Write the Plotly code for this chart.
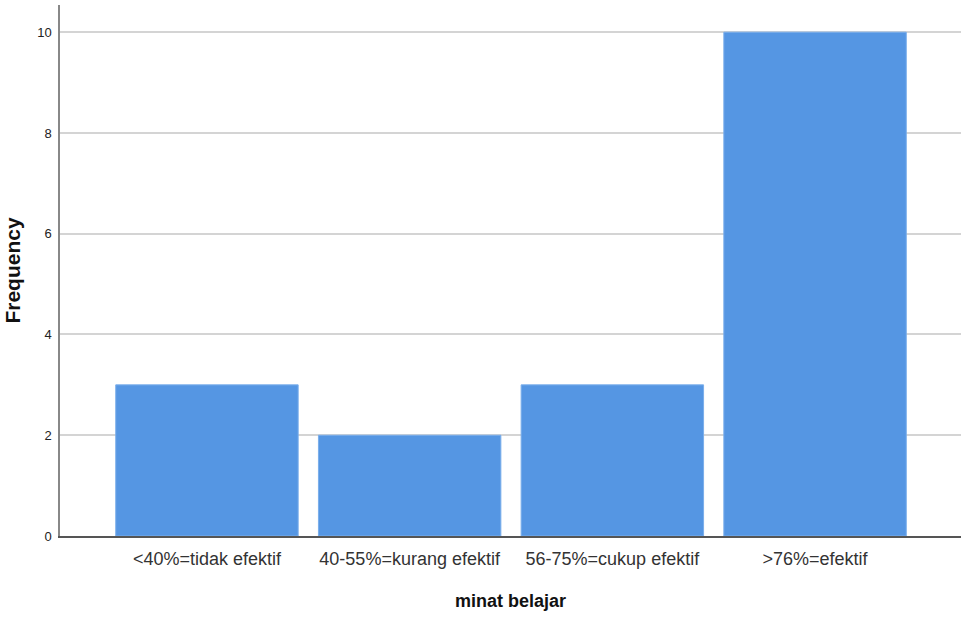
import plotly.graph_objects as go

categories = ["<40%=tidak efektif", "40-55%=kurang efektif", "56-75%=cukup efektif", ">76%=efektif"]
frequency = [3, 2, 3, 10]
y_ticks = [0, 2, 4, 6, 8, 10]

fig = go.Figure()
fig.add_trace(go.Bar(
    x=categories,
    y=frequency,
    width=0.9,
    marker=dict(color="#5596E3", line=dict(color="#7AAEEB", width=1)),
))

fig.update_layout(
    width=968,
    height=617,
    margin=dict(l=60, r=7, t=5, b=81),
    paper_bgcolor="white",
    plot_bgcolor="white",
    showlegend=False,
    font=dict(family="Liberation Sans, Arial, sans-serif", color="#222222"),
    bargap=0.1,
)
fig.update_xaxes(
    range=[-0.725, 3.72],
    showgrid=False,
    showline=True,
    linecolor="#555555",
    linewidth=1.5,
    ticks="",
    ticklabelstandoff=6,
    tickfont=dict(size=18, color="#333333"),
    title=dict(text="<b>minat belajar</b>", font=dict(size=18, color="#111111"), standoff=26),
)
fig.update_yaxes(
    range=[0, 10.54],
    tickvals=y_ticks,
    showgrid=True,
    gridcolor="#D4D4D4",
    gridwidth=1.5,
    showline=True,
    linecolor="#888888",
    linewidth=1.5,
    ticks="",
    zeroline=False,
    ticklabelstandoff=4,
    tickfont=dict(size=13, color="#222222"),
    title=dict(text="<b>Frequency</b>", font=dict(size=21, color="#111111"), standoff=11),
)

fig.write_html(
    "out.html",
    config={"displayModeBar": False},
    post_script="document.body.style.margin='0px';",
)
